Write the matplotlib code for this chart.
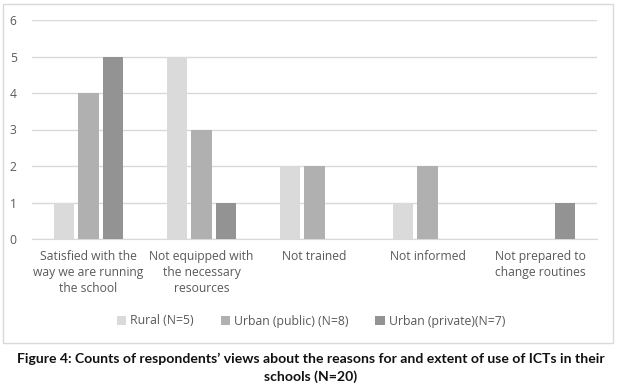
import numpy as np
import matplotlib
matplotlib.use("Agg")
import matplotlib.pyplot as plt
from matplotlib.patches import Rectangle

# data
categories = ["Satisfied with the\nway we are running\nthe school",
              "Not equipped with\nthe necessary\nresources",
              "Not trained",
              "Not informed",
              "Not prepared to\nchange routines"]
rural = [1, 5, 2, 1, 0]
urban_public = [4, 3, 2, 2, 0]
urban_private = [5, 1, 0, 0, 1]
series_names = ["Rural (N=5)", "Urban (public) (N=8)", "Urban (private)(N=7)"]
colors = ["#dadada", "#b0b0b0", "#939393"]
yticks = [0, 1, 2, 3, 4, 5, 6]

plt.rcParams['font.family'] = ['Open Sans', 'DejaVu Sans']

fig = plt.figure(figsize=(6.22, 3.9), dpi=100)
ax = fig.add_axes([32/622, 1-239/390, (597-32)/622, (239-20)/390])

x = np.arange(len(categories))
width = 0.177
step = 0.221
for i, (vals, name, c) in enumerate(zip([rural, urban_public, urban_private], series_names, colors)):
    ax.bar(x + (i-1)*step, vals, width, color=c, label=name, zorder=3)

ax.set_xlim(-0.5, len(categories)-0.5)
ax.set_ylim(0, 6)
ax.set_yticks(yticks)
ax.grid(axis='y', color='#d9d9d9', linewidth=1, zorder=0)
for s in ['top', 'right', 'left']:
    ax.spines[s].set_visible(False)
ax.spines['bottom'].set_color('#d9d9d9')
ax.tick_params(axis='both', length=0, colors='#595959', labelsize=8.7)
ax.tick_params(axis='y', pad=11)
ax.set_xticks(x)
ax.set_xticklabels(categories, linespacing=1.3)
ax.tick_params(axis='x', pad=8)

leg = fig.legend(loc='center', bbox_to_anchor=(0.5, 1-321/390), ncol=3, frameon=False,
                 fontsize=8.8, handlelength=0.8, handleheight=0.8, handletextpad=0.3,
                 columnspacing=2.2)
for t in leg.get_texts():
    t.set_color('#595959')

# chart border
fig.patches.append(Rectangle((3/622, 1-343/390), 610/622, 339/390, transform=fig.transFigure,
                             fill=False, edgecolor='#d9d9d9', linewidth=1))

fig.text(0.5, 1-359/390, "Figure 4: Counts of respondents\u2019 views about the reasons for and extent of use of ICTs in their",
         ha='center', va='center', fontsize=10.1, fontweight='bold', color='#111111', family=['Lato', 'DejaVu Sans'])
fig.text(0.5, 1-377/390, "schools (N=20)", ha='center', va='center', fontsize=10.1, fontweight='bold',
         color='#111111', family=['Lato', 'DejaVu Sans'])

fig.savefig("out.png", dpi=100)
